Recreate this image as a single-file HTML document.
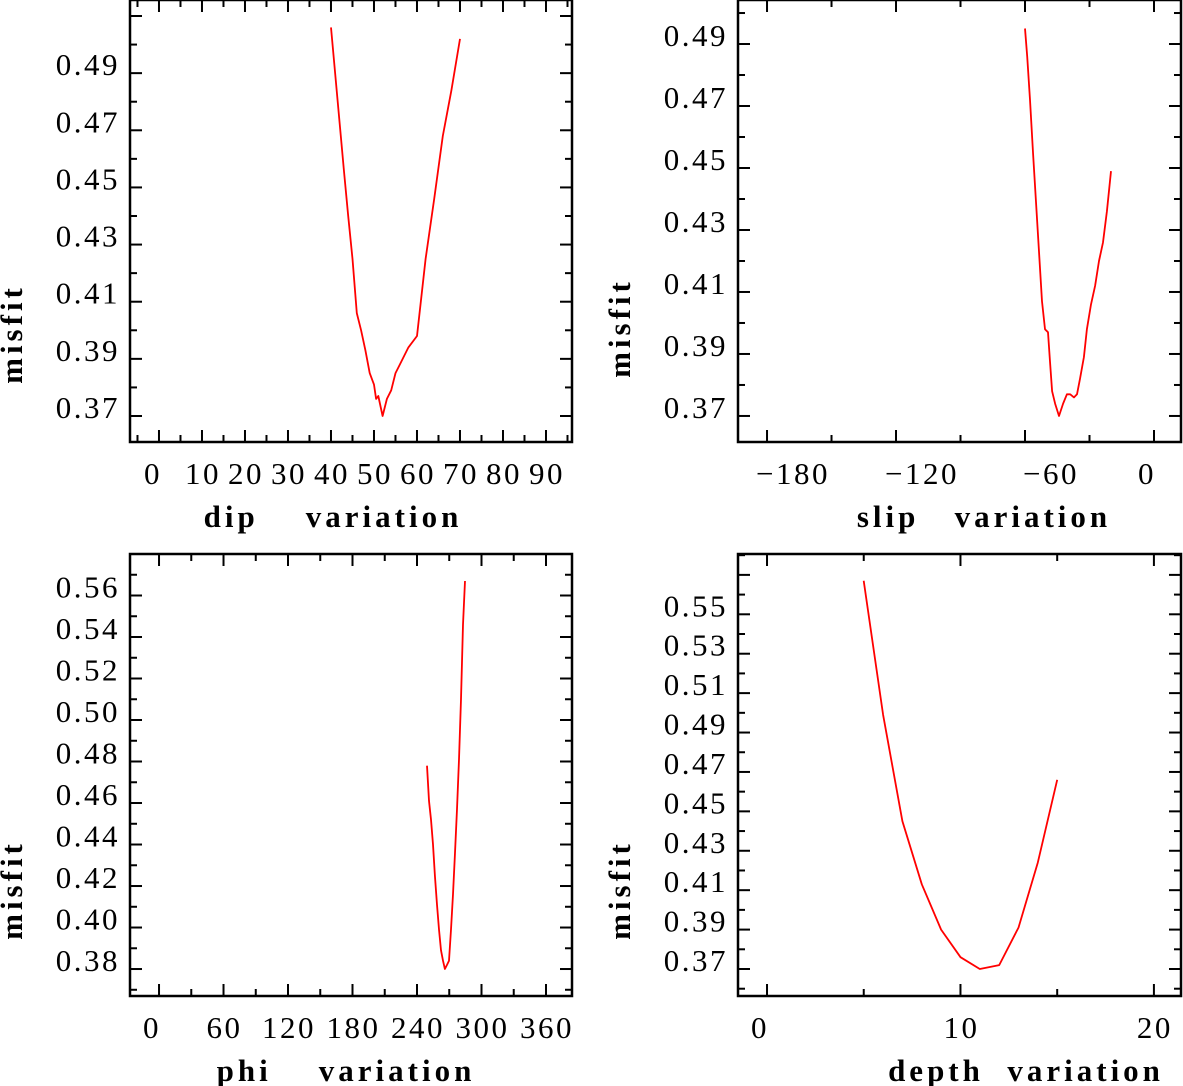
<!DOCTYPE html>
<html><head><meta charset="utf-8">
<style>
html,body{margin:0;padding:0;background:#fff;}
svg{display:block;}
text{font-family:"Liberation Serif",serif;fill:#000;}
.tick{font-size:31px;letter-spacing:2.5px;}
.title{font-size:31px;font-weight:bold;letter-spacing:4px;}
</style></head>
<body>
<svg id="fig" width="1183" height="1086" viewBox="0 0 1183 1086" xmlns="http://www.w3.org/2000/svg"></svg>
<script>
// ---- data ----
const dipX = [40,43,44,45,46,47,48,49,50,50.5,51,52,53,54,55,56,57,58,60,62,64,66,68,70];
const dipY = [0.506,0.456,0.440,0.425,0.406,0.400,0.393,0.385,0.381,0.376,0.377,0.370,0.376,0.379,0.385,0.388,0.391,0.394,0.398,0.425,0.446,0.468,0.484,0.502];
const slipX = [-60,-59,-57.7,-56.3,-54.9,-53.5,-52.1,-50.7,-49.3,-48.4,-47.4,-46,-44.2,-42.3,-40.5,-39,-37.2,-35.8,-34.4,-32.6,-31.2,-29.3,-27.4,-25.6,-23.7,-21.9,-20];
const slipY = [0.495,0.486,0.472,0.455,0.439,0.423,0.407,0.398,0.397,0.388,0.378,0.374,0.370,0.374,0.377,0.377,0.376,0.377,0.382,0.389,0.398,0.406,0.412,0.420,0.426,0.436,0.449];
const phiX = [249.3,251.2,253,254.9,256.7,258.6,260.5,262.3,264.2,266,267.9,269.8,271.6,273.5,275.3,277.2,279.1,280.9,282.8,284.7];
const phiY = [0.478,0.461,0.452,0.440,0.425,0.411,0.399,0.389,0.384,0.380,0.382,0.384,0.399,0.416,0.435,0.457,0.481,0.510,0.546,0.567];
const depthX = [5,6,7,8,9,10,11,12,13,14,15];
const depthY = [0.567,0.499,0.445,0.413,0.390,0.376,0.370,0.372,0.391,0.424,0.466];
// tick labels
const dipTicks = [0,10,20,30,40,50,60,70,80,90];
const dipYTicks = [0.37,0.39,0.41,0.43,0.45,0.47,0.49];
const slipTicks = [-180,-120,-60,0];
const slipYTicks = [0.37,0.39,0.41,0.43,0.45,0.47,0.49];
const phiTicks = [0,60,120,180,240,300,360];
const phiYTicks = [0.38,0.40,0.42,0.44,0.46,0.48,0.50,0.52,0.54,0.56];
const depthTicks = [0,10,20];
const depthYTicks = [0.37,0.39,0.41,0.43,0.45,0.47,0.49,0.51,0.53,0.55];

const NS = "http://www.w3.org/2000/svg";
const svg = document.getElementById('fig');
function mk(tag, attrs, parent){
  const e = document.createElementNS(NS, tag);
  for (const k in attrs) e.setAttribute(k, attrs[k]);
  (parent||svg).appendChild(e);
  return e;
}
function fmtY(v){return v.toFixed(2);}
function fmtX(v){return v<0 ? '\u2212'+Math.abs(v) : String(v);}

function panel(p){
  const g = mk('g', {});
  
  
  const sx = v => p.x0 + (v - p.xmin) / (p.xmax - p.xmin) * (p.x1 - p.x0);
  const sy = v => p.y1 - (v - p.ymin) / (p.ymax - p.ymin) * (p.y1 - p.y0);
  const fr = mk('rect', {x:p.x0, y:p.y0, width:p.x1-p.x0, height:p.y1-p.y0, fill:'none', stroke:'#000', 'stroke-width':2.5}, g);
  
  
  const xs = Math.ceil(p.xmin / p.xminor);
  for (let i = xs; i * p.xminor <= p.xmax; i++){
    const v = i * p.xminor;
    const major = Math.abs(v / p.xmajor - Math.round(v / p.xmajor)) < 1e-6;
    const L = major ? 12 : 7, X = sx(v);
    mk('line', {x1:X, x2:X, y1:p.y1, y2:p.y1-L, stroke:'#000', 'stroke-width':2}, g);
    mk('line', {x1:X, x2:X, y1:p.y0, y2:p.y0+L, stroke:'#000', 'stroke-width':2}, g);
  }
  const ys = Math.ceil(p.ymin / p.yminor - 1e-6);
  for (let i = ys; i * p.yminor <= p.ymax + 1e-9; i++){
    const v = i * p.yminor;
    const major = Math.round(v*100) % 2 === p.yodd;
    const L = major ? 12 : 7, Y = sy(v);
    mk('line', {x1:p.x0, x2:p.x0+L, y1:Y, y2:Y, stroke:'#000', 'stroke-width':2}, g);
    mk('line', {x1:p.x1, x2:p.x1-L, y1:Y, y2:Y, stroke:'#000', 'stroke-width':2}, g);
  }
  p.xticks.forEach(v => {
    const t = mk('text', {x: sx(v) + p.xlabShift(v), y: p.y1 + 42, 'text-anchor':'middle', class:'tick'}, g);
    t.textContent = fmtX(v);
    
    
  });
  p.yticks.forEach(v => {
    const t = mk('text', {x: p.x0 - 10, y: sy(v) + 2, 'text-anchor':'end', class:'tick'}, g);
    t.textContent = fmtY(v);
    
    
  });
  const xt = mk('text', {x:p.xtx, y:p.y1 + 85, 'text-anchor':'middle', class:'title'}, g);
  xt.textContent = p.xtitle;
  xt.setAttribute('xml:space','preserve');
  xt.style.whiteSpace = 'pre';
  
  
  const cx = p.x0 - 108, cy = p.ytitleY;
  const yt = mk('text', {x:cx, y:cy, 'text-anchor':'middle', class:'title', transform:`rotate(-90 ${cx} ${cy})`}, g);
  yt.textContent = 'misfit';
  
  
  const pts = p.dx.map((v, i) => sx(v).toFixed(1) + ',' + sy(p.dy[i]).toFixed(1)).join(' ');
  const ln = mk('polyline', {points:pts, fill:'none', stroke:'#ff0000', 'stroke-width':1.8, 'stroke-linejoin':'round'}, g);
  
  
}

panel({name:'dip-panel', x0:130, x1:572, y0:0, y1:442,
  xmin:-6.74, xmax:96.05, ymin:0.3609, ymax:0.5156,
  xmajor:10, xminor:5, ymajor:0.01, yminor:0.01, yodd:1,
  xticks:dipTicks, yticks:dipYTicks, xlabShift:v=>v===0?-6:1, ytitleY:334,
  xtitle:'dip    variation', xtx:333, dx:dipX, dy:dipY});
panel({name:'slip-panel', x0:738, x1:1181, y0:0, y1:442,
  xmin:-193.5, xmax:12.56, ymin:0.3616, ymax:0.5042,
  xmajor:60, xminor:30, ymajor:0.01, yminor:0.01, yodd:1,
  xticks:slipTicks, yticks:slipYTicks, xlabShift:v=>v<0?26:-7, ytitleY:328,
  xtitle:'slip   variation', xtx:984, dx:slipX, dy:slipY});
panel({name:'phi-panel', x0:130, x1:572, y0:554, y1:996,
  xmin:-27, xmax:384.2, ymin:0.367, ymax:0.58,
  xmajor:60, xminor:30, ymajor:0.01, yminor:0.01, yodd:0,
  xticks:phiTicks, yticks:phiYTicks, xlabShift:v=>v===0?-7:1, ytitleY:890,
  xtitle:'phi    variation', xtx:346, dx:phiX, dy:phiY});
panel({name:'depth-panel', x0:738, x1:1181, y0:554, y1:996,
  xmin:-1.5, xmax:21.4, ymin:0.3563, ymax:0.5806,
  xmajor:10, xminor:5, ymajor:0.01, yminor:0.01, yodd:1,
  xticks:depthTicks, yticks:depthYTicks, xlabShift:v=>v===0?-7:1, ytitleY:890,
  xtitle:'depth  variation', xtx:1026, dx:depthX, dy:depthY});
</script>
</body></html>
